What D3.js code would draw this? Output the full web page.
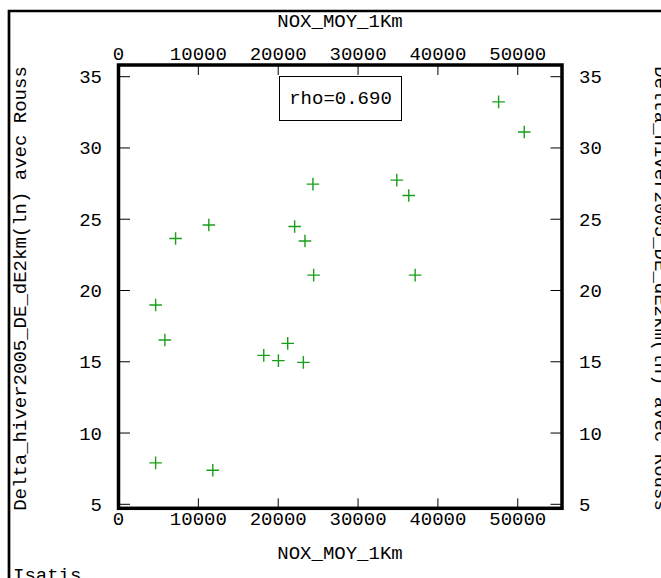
<!DOCTYPE html>
<html><head><meta charset="utf-8">
<script src="https://cdn.jsdelivr.net/npm/d3@7"></script>
<style>
html,body{margin:0;padding:0;background:#fff;overflow:hidden;}
svg{display:block;}
text{font-family:"Liberation Mono","Courier New",monospace;fill:#000;}
</style></head>
<body>
<script>
const xValues = [4650, 5810, 7150, 11310, 4650, 11810, 18190, 20025, 21190, 23150, 22060, 23350, 24440, 24350, 34850, 36350, 37150, 47600, 50810];
const yValues = [18.98, 16.53, 23.65, 24.59, 7.91, 7.39, 15.45, 15.08, 16.29, 14.96, 24.49, 23.47, 21.08, 27.46, 27.74, 26.66, 21.08, 33.23, 31.12];
const xTicks = [0, 10000, 20000, 30000, 40000, 50000];
const yTicks = [5, 10, 15, 20, 25, 30, 35];
const xDomain = [0, 55540];
const yDomain = [4.72, 35.82];
const xTitle = "NOX_MOY_1Km";
const yTitle = "Delta_hiver2005_DE_dE2km(ln) avec Rouss";
const rhoText = "rho=0.690";
const footer = "Isatis";

const W = 661, H = 578;
const L = 118.5, R = 562, T = 65, B = 508.3;
const svg = d3.select("body").append("svg").attr("width", W).attr("height", H);

const x = d3.scaleLinear().domain(xDomain).range([L, R]);
const y = d3.scaleLinear().domain(yDomain).range([B, T]);

// outer frame
svg.append("path").attr("d", `M9,${H+20} L9,11 L${W+20},11`)
  .attr("fill", "none").attr("stroke", "#000").attr("stroke-width", 2.7);

const fs = 19;

// titles
svg.append("text").attr("x", 340).attr("y", 27).attr("text-anchor", "middle")
  .attr("font-size", fs).text(xTitle);
svg.append("text").attr("x", 340).attr("y", 558.5).attr("text-anchor", "middle")
  .attr("font-size", fs).text(xTitle);
svg.append("text").attr("transform", "translate(25.5,288.5) rotate(-90)")
  .attr("text-anchor", "middle").attr("font-size", fs).text(yTitle);
svg.append("text").attr("transform", "translate(655,288.5) rotate(90)")
  .attr("text-anchor", "middle").attr("font-size", fs).text(yTitle);
svg.append("text").attr("x", 13).attr("y", 581).attr("font-size", fs).text(footer);

// axes (ticks inside)
const tickLen = 10;
const g = svg.append("g");
const xt = xTicks.filter(d => d !== 0);
g.selectAll(".xtb").data(xt).enter().append("line")
  .attr("x1", d => x(d)).attr("x2", d => x(d)).attr("y1", B).attr("y2", B - tickLen)
  .attr("stroke", "#000").attr("stroke-width", 1);
g.selectAll(".xtt").data(xt).enter().append("line")
  .attr("x1", d => x(d)).attr("x2", d => x(d)).attr("y1", T).attr("y2", T + tickLen)
  .attr("stroke", "#000").attr("stroke-width", 1);
g.selectAll(".ytl").data(yTicks).enter().append("line")
  .attr("x1", L).attr("x2", L + tickLen + 1.5).attr("y1", d => y(d)).attr("y2", d => y(d))
  .attr("stroke", "#000").attr("stroke-width", 1);
g.selectAll(".ytr").data(yTicks).enter().append("line")
  .attr("x1", R).attr("x2", R - tickLen - 1.5).attr("y1", d => y(d)).attr("y2", d => y(d))
  .attr("stroke", "#000").attr("stroke-width", 1);

// tick labels
g.selectAll(".xlt").data(xTicks).enter().append("text")
  .attr("x", d => x(d)).attr("y", 60).attr("text-anchor", "middle")
  .attr("font-size", fs).text(d => d);
g.selectAll(".xlb").data(xTicks).enter().append("text")
  .attr("x", d => x(d)).attr("y", 525).attr("text-anchor", "middle")
  .attr("font-size", fs).text(d => d);
g.selectAll(".yll").data(yTicks).enter().append("text")
  .attr("x", 102).attr("y", d => y(d) + 6.5).attr("text-anchor", "end")
  .attr("font-size", fs).text(d => d);
g.selectAll(".ylr").data(yTicks).enter().append("text")
  .attr("x", 579).attr("y", d => y(d) + 6.5).attr("text-anchor", "start")
  .attr("font-size", fs).text(d => d);

// plot border
svg.append("rect").attr("x", L).attr("y", T).attr("width", R - L).attr("height", B - T)
  .attr("fill", "none").attr("stroke", "#000").attr("stroke-width", 3.5);

// rho box
svg.append("rect").attr("x", 279.5).attr("y", 76.5).attr("width", 122).attr("height", 44)
  .attr("fill", "#fff").attr("stroke", "#000").attr("stroke-width", 1);
svg.append("text").attr("x", 340.5).attr("y", 104.3).attr("text-anchor", "middle")
  .attr("font-size", fs).text(rhoText);

// points
const pts = xValues.map((v, i) => [v, yValues[i]]);
const s = 6.3;
svg.append("g").selectAll("path").data(pts).enter().append("path")
  .attr("d", d => `M${x(d[0]) - s},${y(d[1])}H${x(d[0]) + s}M${x(d[0])},${y(d[1]) - s}V${y(d[1]) + s}`)
  .attr("stroke", "#1a9e1a").attr("stroke-width", 1.4).attr("fill", "none");
</script>
</body></html>
